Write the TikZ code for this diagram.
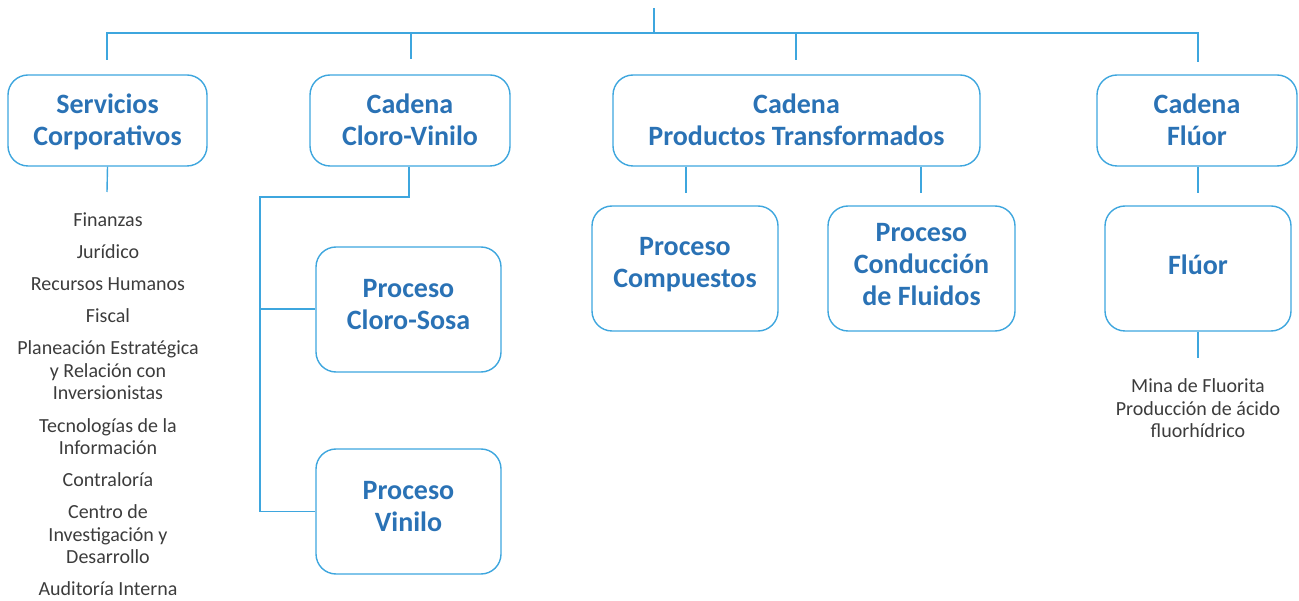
\documentclass[tikz,border=0pt]{standalone}
\usepackage{fontspec}
\setmainfont{Carlito}
\definecolor{lineblue}{RGB}{62,166,222}
\definecolor{textblue}{RGB}{42,114,181}
\definecolor{textgray}{RGB}{60,60,60}
\tikzset{
  box/.style={draw=lineblue, line width=1.4pt, rounded corners=20pt, inner sep=0pt},
  boxtext/.style={align=center, text=textblue, font=\fontsize{28}{32}\selectfont\bfseries, inner sep=0pt},
  conn/.style={draw=lineblue, line width=1.4pt},
  item/.style={align=center, text=textgray, font=\fontsize{20}{22.5}\selectfont, inner sep=0pt}
}
\begin{document}
\begin{tikzpicture}[x=1pt,y=-1pt]
\useasboundingbox (0,0) rectangle (1299,601);
% top boxes
\node[box, minimum width=199pt, minimum height=91pt] (sc) at (107.5,120.5) {};
\node[box, minimum width=200pt, minimum height=91pt] (ccv) at (410,120.5) {};
\node[box, minimum width=367pt, minimum height=91pt] (cpt) at (796.5,120.5) {};
\node[box, minimum width=200pt, minimum height=91pt] (cf) at (1197,120.5) {};
\node[boxtext] (sct) at (107.5,122) {Servicios\\Corporativos};
\node[boxtext] (ccvt) at (410,120) {Cadena\\Cloro-Vinilo};
\node[boxtext] (cptt) at (796.5,120) {Cadena\\Productos Transformados};
\node[boxtext] (cft) at (1197,120) {Cadena\\Flúor};
% second level
\node[box, minimum width=185pt, minimum height=125pt] (pcs) at (408.5,309.5) {};
\node[box, minimum width=185pt, minimum height=125pt] (pv) at (408.5,511.5) {};
\node[box, minimum width=186pt, minimum height=125pt] (pc) at (685,268.5) {};
\node[box, minimum width=187pt, minimum height=125pt] (pcf) at (921.5,268.5) {};
\node[box, minimum width=186pt, minimum height=125pt] (fl) at (1198,268.5) {};
\node[boxtext] (pcst) at (408.5,305) {Proceso\\Cloro-Sosa};
\node[boxtext] (pvt) at (408.5,506.5) {Proceso\\Vinilo};
\node[boxtext] (pct) at (685,265) {Proceso\\Compuestos};
\node[boxtext] (pcft) at (921.5,265) {Proceso\\Conducción\\de Fluidos};
\node[boxtext] (flt) at (1198,264.5) {Flúor};
% lists
\node[item] (i1) at (108,220) {Finanzas};
\node[item] (i2) at (108,252) {Jurídico};
\node[item] (i3) at (108,284) {Recursos Humanos};
\node[item] (i4) at (108,316) {Fiscal};
\node[item] (i5) at (108,370.5) {Planeación Estratégica\\y Relación con\\Inversionistas};
\node[item] (i6) at (108,436.5) {Tecnologías de la\\Información};
\node[item] (i7) at (108,480) {Contraloría};
\node[item] (i8) at (108,534.5) {Centro de\\Investigación y\\Desarrollo};
\node[item] (i9) at (108,589) {Auditoría Interna};
\node[item] (fli) at (1198,408.5) {Mina de Fluorita\\Producción de ácido\\fluorhídrico};
% top connectors
\coordinate (root) at (654,8);
\coordinate (rj) at (654,33);
\coordinate (hl) at (107,33);
\coordinate (hr) at (1198,33);
\coordinate (d1) at (107,60);
\coordinate (d2a) at (411,33);
\coordinate (d2) at (411,59);
\coordinate (d3a) at (796,33);
\coordinate (d3) at (796,60);
\coordinate (d4) at (1198,62);
\draw[conn] (root) -- (rj);
\draw[conn] (d1) -- (hl) -- (hr) -- (d4);
\draw[conn] (d2a) -- (d2);
\draw[conn] (d3a) -- (d3);
% stubs
\coordinate (scs) at (107,192);
\draw[conn] (sc.south) -- (scs);
\coordinate (cv1) at (409,197);
\coordinate (cv2) at (260,197);
\coordinate (cv3) at (260,511.5);
\coordinate (cvm) at (260,309);
\draw[conn] (ccv.south -| cv1) -- (cv1) -- (cv2) -- (cv3) -- (pv.west);
\draw[conn] (cvm) -- (pcs.west |- cvm);
\coordinate (pt1) at (686,193);
\coordinate (pt2) at (921,193);
\draw[conn] (cpt.south -| pt1) -- (pt1);
\draw[conn] (cpt.south -| pt2) -- (pt2);
\coordinate (cfs) at (1198,193);
\draw[conn] (cf.south -| cfs) -- (cfs);
\coordinate (fls) at (1198,358);
\draw[conn] (fl.south) -- (fls);
\end{tikzpicture}
\end{document}
